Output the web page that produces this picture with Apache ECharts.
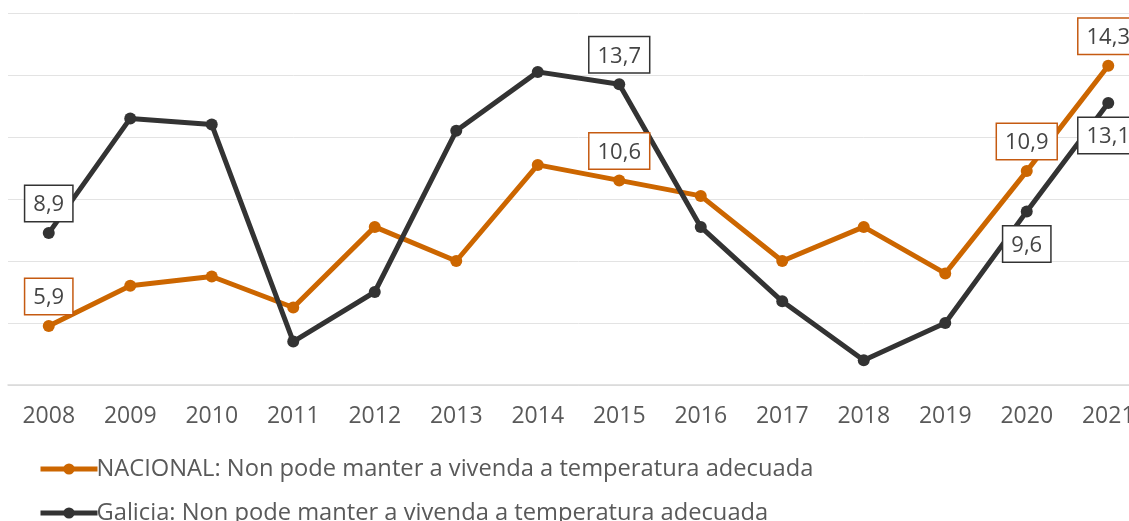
<!DOCTYPE html>
<html>
<head>
<meta charset="utf-8">
<script src="https://cdn.jsdelivr.net/npm/echarts@6/dist/echarts.min.js"></script>
<style>
html,body{margin:0;padding:0;background:#fff;overflow:hidden;}
#chart{width:1149px;height:521px;}
</style>
</head>
<body>
<div id="chart"></div>
<script>
var years = ['2008','2009','2010','2011','2012','2013','2014','2015','2016','2017','2018','2019','2020','2021'];
var nacional = [5.9, 7.2, 7.5, 6.5, 9.1, 8.0, 11.1, 10.6, 10.1, 8.0, 9.1, 7.6, 10.9, 14.3];
var galicia = [8.9, 12.6, 12.4, 5.4, 7.0, 12.2, 14.1, 13.7, 9.1, 6.7, 4.8, 6.0, 9.6, 13.1];
// which points carry a label, and where
var nacionalLabels = {0: 'top', 7: 'top', 12: 'top', 13: 'top'};
var galiciaLabels = {0: 'top', 7: 'top', 12: 'bottom', 13: 'bottom'};

var nameNac = 'NACIONAL: Non pode manter a vivenda a temperatura adecuada';
var nameGal = 'Galicia: Non pode manter a vivenda a temperatura adecuada';

var font = '"Open Sans", "Noto Sans", sans-serif';

function fmt(v){ return v.toFixed(1).replace('.', ','); }

function withLabels(values, marks, color){
	return values.map(function(v, i){
		if (!marks[i]) return v;
		return {
			value: v,
			label: {
				show: true,
				position: marks[i],
				distance: marks[i] == 'top' ? 6 : 9,
				formatter: function(p){ return fmt(p.value); },
				color: '#444',
				fontSize: 22,
				fontFamily: font,
				backgroundColor: '#fff',
				borderColor: color,
				borderWidth: 1.5,
				padding: [8, 8, 5, 8]
			}
		};
	});
}

function legendAt(name, top){
	return {
		orient: 'vertical',
		left: 33,
		top: top,
		itemWidth: 57,
		itemHeight: 14,
		lineStyle: {width: 5},
		textStyle: {fontSize: 23.7, color: '#595959', fontFamily: font, padding: [0, 0, 0, -6]},
		data: [name]
	};
}

var chart = echarts.init(document.getElementById('chart'));
chart.setOption({
	animation: false,
	textStyle: {fontFamily: font},
	grid: {left: 8, right: 0, top: 13, bottom: 136},
	legend: [legendAt(nameNac, 452), legendAt(nameGal, 496)],
	xAxis: {
		type: 'category',
		data: years,
		boundaryGap: true,
		axisLine: {lineStyle: {color: '#d9d9d9', width: 1.5}},
		axisTick: {show: false},
		axisLabel: {color: '#595959', fontSize: 23, margin: 20, fontFamily: font}
	},
	yAxis: {
		type: 'value',
		min: 4,
		max: 16,
		interval: 2,
		axisLabel: {show: false},
		axisLine: {show: false},
		axisTick: {show: false},
		splitLine: {lineStyle: {color: '#e3e3e3', width: 1}}
	},
	series: [
		{
			name: nameNac,
			type: 'line',
			data: withLabels(nacional, nacionalLabels, '#c55a11'),
			color: '#cc6600',
			symbol: 'circle',
			symbolSize: 12,
			lineStyle: {width: 5}
		},
		{
			name: nameGal,
			type: 'line',
			data: withLabels(galicia, galiciaLabels, '#333'),
			color: '#333333',
			symbol: 'circle',
			symbolSize: 12,
			lineStyle: {width: 5}
		}
	]
});
</script>
</body>
</html>
